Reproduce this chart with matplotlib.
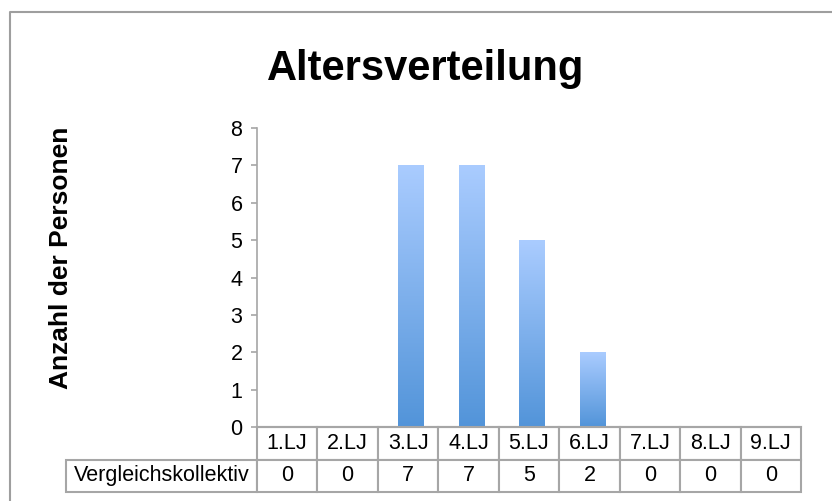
import matplotlib
matplotlib.use("Agg")
import matplotlib.pyplot as plt
import numpy as np
from matplotlib.colors import LinearSegmentedColormap
from matplotlib.lines import Line2D

plt.rcParams['font.family'] = ['Liberation Sans', 'DejaVu Sans']

kategorien = ["1.LJ", "2.LJ", "3.LJ", "4.LJ", "5.LJ", "6.LJ", "7.LJ", "8.LJ", "9.LJ"]
anzahl = [0, 0, 7, 7, 5, 2, 0, 0, 0]
reihe = "Vergleichskollektiv"

grau = "#A6A6A6"
verlauf = LinearSegmentedColormap.from_list("blau", ["#5294D9", "#AACCFF"])

W, H = 832, 501
fig = plt.figure(figsize=(W / 100, H / 100), dpi=100)

# pixel layout of the plot area
x0, x1 = 257, 801
y_top, y_null = 128, 427
ax = fig.add_axes([x0 / W, 1 - y_null / H, (x1 - x0) / W, (y_null - y_top) / H])

# bars with a vertical gradient
breite = 0.42
grad = np.linspace(0, 1, 256).reshape(-1, 1)
for i, wert in enumerate(anzahl):
    if wert <= 0:
        continue
    mitte = i + 0.55
    ax.imshow(grad, cmap=verlauf, origin="lower", aspect="auto",
              extent=[mitte - breite / 2, mitte + breite / 2, 0, wert],
              interpolation="bicubic", zorder=2)
ax.set_xlim(0, len(kategorien))
ax.set_ylim(0, 8)

ax.set_yticks(range(0, 9))
ax.set_xticks([])
ax.tick_params(axis="y", direction="out", length=4.5, width=1.2, color=grau,
               labelsize=15.5, pad=6)
for s in ["top", "right"]:
    ax.spines[s].set_visible(False)
ax.spines["left"].set_color(grau)
ax.spines["left"].set_linewidth(1.2)
ax.spines["bottom"].set_color(grau)
ax.spines["bottom"].set_linewidth(1.5)

# data table below the plot; bbox covers the value columns only
zeilen_h = 65 / (y_null - y_top)
label_w = (x0 - 66) / (x1 - x0)
tab = ax.table(cellText=[[str(v) for v in anzahl]], colLabels=kategorien,
               cellLoc="center", colWidths=[1 / len(kategorien)] * len(kategorien),
               bbox=[0, -zeilen_h, 1, zeilen_h])
tab.add_cell(1, -1, width=label_w, height=tab[(1, 0)].get_height(), text=reihe, loc="center")
tab.auto_set_font_size(False)
tab.set_fontsize(15.5)
for key, cell in tab.get_celld().items():
    cell.set_edgecolor(grau)
    cell.set_linewidth(1.5)

fig.text(426 / W, 1 - 80 / H, "Altersverteilung", ha="center", va="baseline",
         fontsize=30, fontweight="bold")
fig.text(61 / W, 1 - 258 / H, "Anzahl der Personen", ha="center", va="center",
         rotation=90, fontsize=19, fontweight="bold")

# chart frame
rx, ry = 10 / W, 1 - 12 / H
fig.add_artist(Line2D([rx, rx, 1.05], [-0.05, ry, ry], transform=fig.transFigure,
                      color="#9E9E9E", linewidth=1.5))

fig.savefig("out.png", dpi=100)
